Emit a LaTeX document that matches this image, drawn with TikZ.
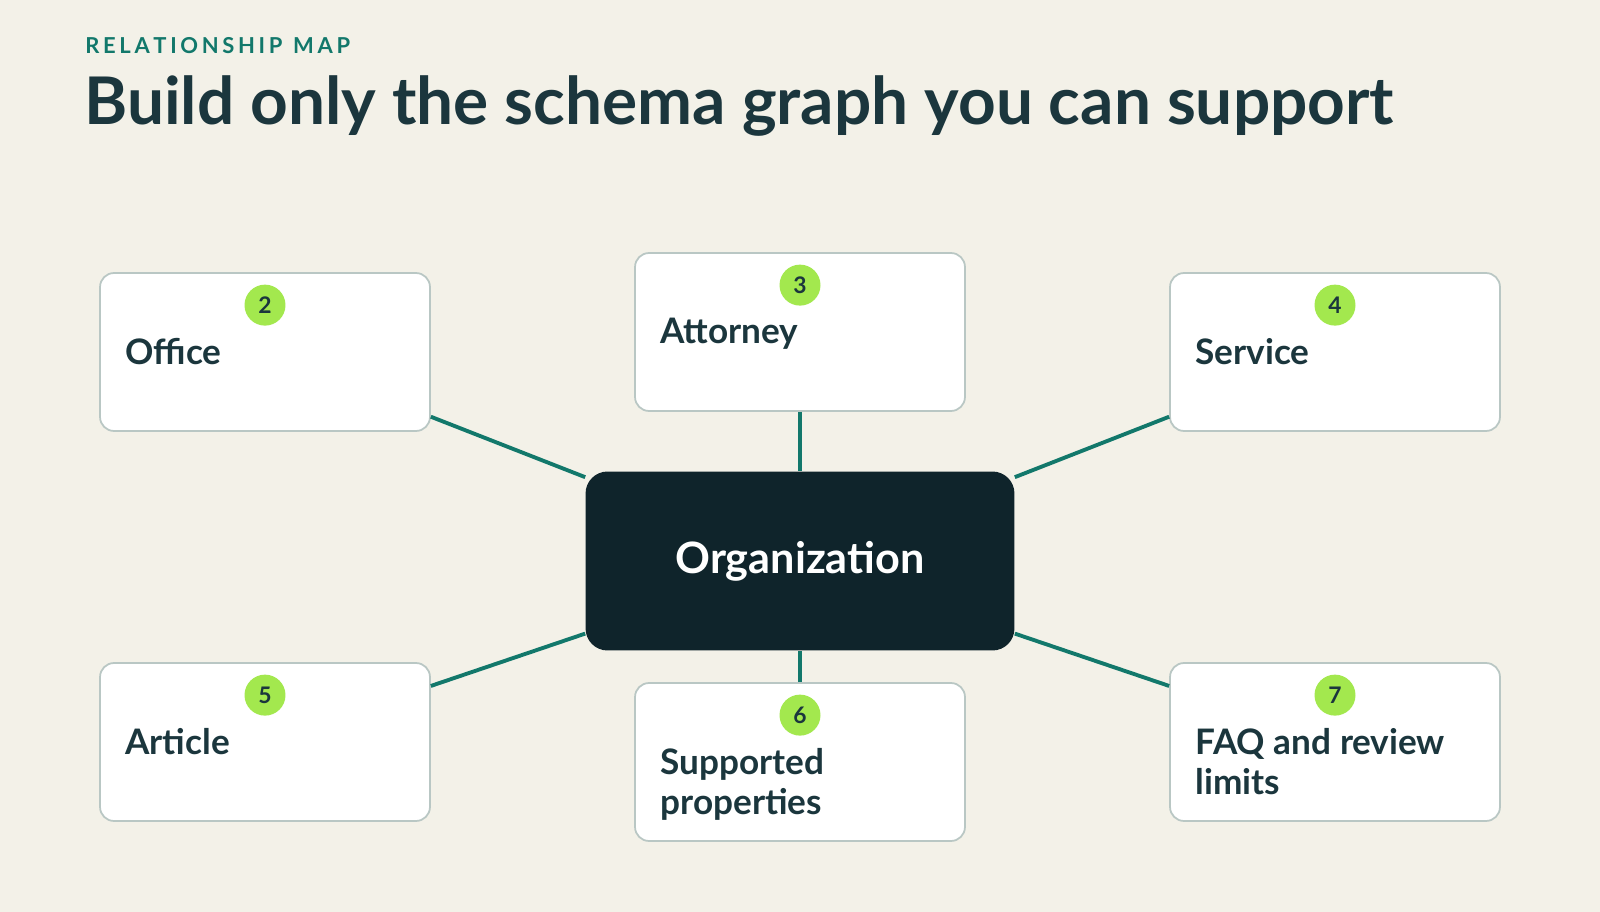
\documentclass[tikz,border=0pt]{standalone}
\usepackage{fontspec}
\setmainfont{Lato}
\usetikzlibrary{positioning}
\definecolor{paper}{HTML}{F3F1E8}
\definecolor{ink}{HTML}{1B363D}
\definecolor{hub}{HTML}{0F242B}
\definecolor{teal}{HTML}{12786B}
\definecolor{lime}{HTML}{A3E84E}
\definecolor{rim}{HTML}{B9C7C4}
\tikzset{
  box/.style={draw=rim,line width=1pt,fill=white,rounded corners=0.28cm,minimum width=6.6cm,minimum height=3.16cm},
  lbl/.style={anchor=north west,text=ink,font=\bfseries\fontsize{20}{22.5}\selectfont,align=left,inner sep=0},
  badge/.style={circle,fill=lime,text=ink,minimum size=0.82cm,inner sep=0,font=\bfseries\fontsize{13}{13}\selectfont},
  link/.style={teal,line width=2.2pt}
}
\begin{document}
\begin{tikzpicture}[x=0.02cm,y=-0.02cm]
\fill[paper] (0,0) rectangle (1600,912);
\node[anchor=west,text=teal,inner sep=0,font=\bfseries\fontsize{12.5}{14}\selectfont] (kick) at (85,46) {R\,E\,L\,A\,T\,I\,O\,N\,S\,H\,I\,P\ \ M\,A\,P};
\node[anchor=west,text=ink,inner sep=0,font=\bfseries\fontsize{37.4}{42}\selectfont] (title) at (84,106) {Build only the schema graph you can support};
% hub
\node[fill=hub,rounded corners=0.44cm,minimum width=8.58cm,minimum height=3.58cm,text=white,font=\bfseries\fontsize{24.6}{28}\selectfont] (org) at (800,561) {Organization};
% satellites
\node[box] (office) at (265,352) {};
\node[box] (attorney) at (800,332) {};
\node[box] (service) at (1335,352) {};
\node[box] (article) at (265,742) {};
\node[box] (props) at (800,762) {};
\node[box] (faq) at (1335,742) {};
\foreach \n/\k/\t in {office/2/Office,attorney/3/Attorney,service/4/Service,article/5/Article,props/6/{Supported\\properties},faq/7/{FAQ and review\\limits}}{
  \node[badge] (\n-num) at ([yshift=-0.66cm]\n.north) {\k};
  \node[lbl] (\n-txt) at ([xshift=0.52cm,yshift=-1.32cm]\n.north west) {\t};
}
\foreach \n in {office,attorney,service,article,props,faq}
  \draw[link] (\n) -- (org);
\end{tikzpicture}
\end{document}
